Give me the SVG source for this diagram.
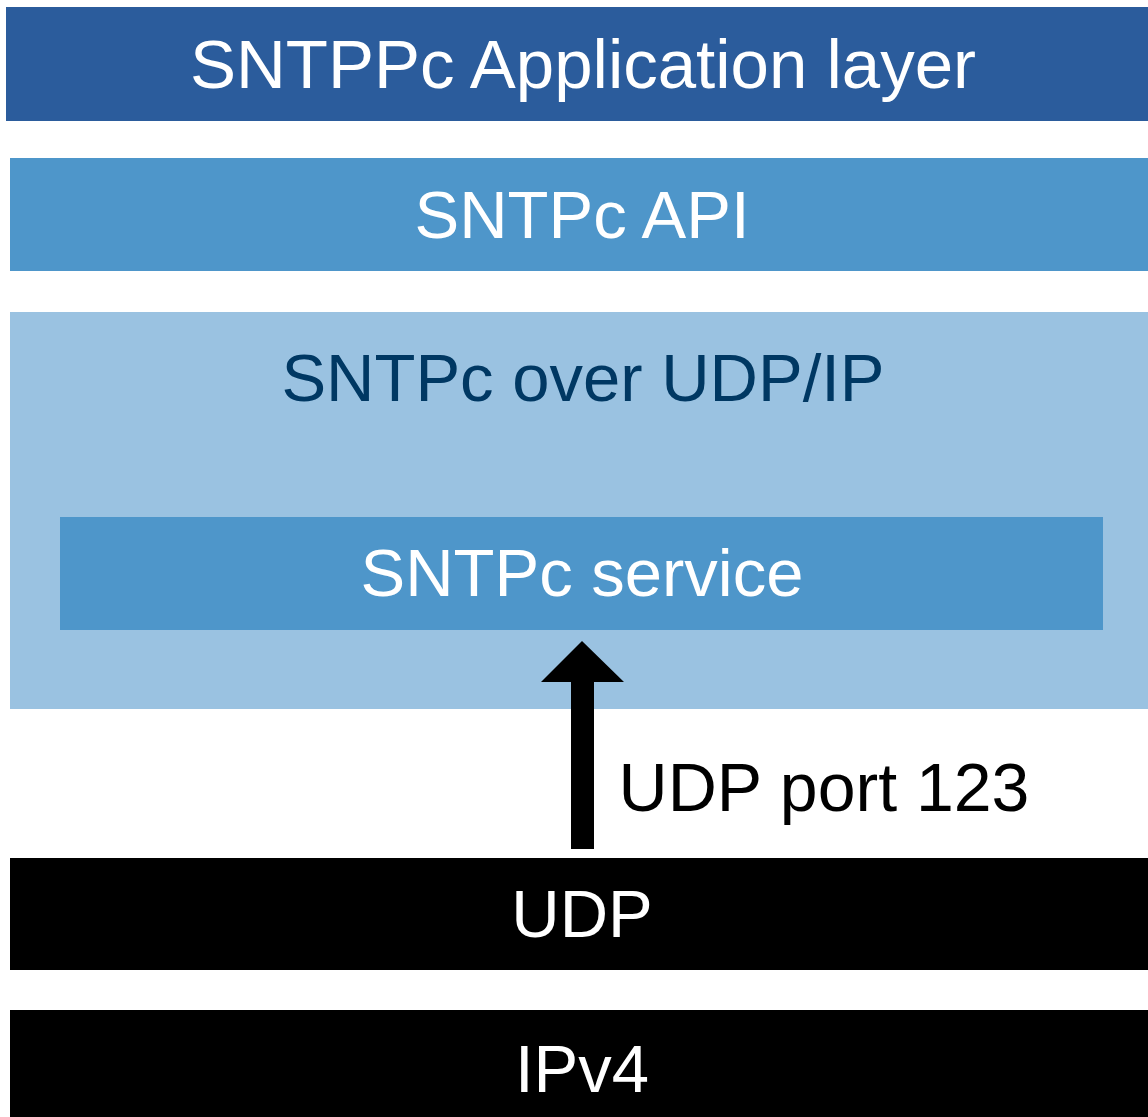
<svg xmlns="http://www.w3.org/2000/svg" width="1148" height="1117" viewBox="0 0 1148 1117">
<style>
text{font-family:"Liberation Sans",Arial,Helvetica,sans-serif;font-size:67px;text-anchor:middle}
.w{fill:#ffffff}
.d{fill:#003863}
.k{fill:#000000}
</style>
<rect x="0" y="0" width="1148" height="1117" fill="#ffffff"/>
<g id="app">
<rect x="6" y="7" width="1142" height="114" fill="#2B5C9C"/>
<text class="w" x="583" y="88" style="font-size:69px">SNTPPc Application layer</text>
</g>
<g id="api">
<rect x="10" y="158" width="1138" height="113" fill="#4E96CA"/>
<text class="w" x="582" y="238">SNTPc API</text>
</g>
<g id="udpip">
<rect x="10" y="312" width="1138" height="397" fill="#9AC2E1"/>
<text class="d" x="583" y="401">SNTPc over UDP/IP</text>
</g>
<g id="service">
<rect x="60" y="517" width="1043" height="113" fill="#4E96CA"/>
<text class="w" x="582" y="596">SNTPc service</text>
</g>
<g id="udp">
<rect x="10" y="858" width="1138" height="112" fill="#000000"/>
<text class="w" x="582" y="937">UDP</text>
</g>
<g id="ipv4">
<rect x="10" y="1010" width="1138" height="107" fill="#000000"/>
<text class="w" x="582" y="1092">IPv4</text>
</g>
<g id="connectors">
<polygon points="571,849 594,849 594,682 624,682 582,641 541,682 571,682" fill="#000000"/>
<text class="k" x="824" y="811" style="font-size:68px">UDP port 123</text>
</g>
</svg>
